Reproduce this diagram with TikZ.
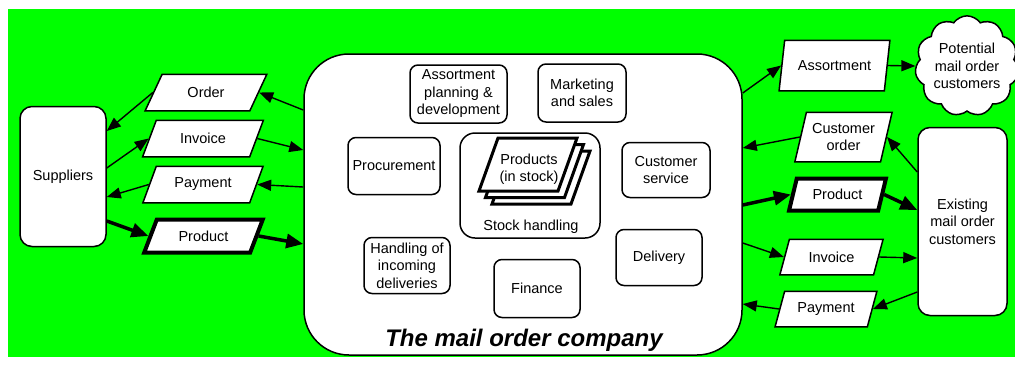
\documentclass[tikz,border=0pt]{standalone}
\usepackage{fontspec}
\setmainfont{Liberation Sans}
\usetikzlibrary{arrows.meta,shapes.geometric,shapes.symbols}
\definecolor{bggreen}{RGB}{0,255,0}
\begin{document}
\begin{tikzpicture}[x=1pt,y=-1pt,
  every node/.style={font=\fontsize{14.5}{17.5}\selectfont},
  box/.style={draw, fill=white, line width=1.5pt, rounded corners=8pt, align=center, inner sep=0pt},
  para/.style 2 args={draw, fill=white, line width=1.5pt, shape=trapezium,
     trapezium left angle=#1, trapezium right angle=#2,
     trapezium stretches=true, inner sep=0pt, align=center},
  thk/.style={line width=4pt},
  arr/.style={-{Triangle[length=14pt,width=11pt]}, line width=1.4pt},
  tarr/.style={-{Triangle[length=17pt,width=14pt]}, line width=3.5pt},
  stackp/.style={draw, fill=white, line width=3pt, line join=miter},
]
\useasboundingbox (0,0) rectangle (1015,365);
\fill[bggreen] (8,9) rectangle (1015,356.5);

% main company box
\node[box, rounded corners=45pt, minimum width=438pt, minimum height=301pt] (main) at (523,204.5) {};
\node[font=\fontsize{24}{28}\selectfont\bfseries\itshape] (title) at (524,340) {The mail order company};

% inner boxes
\node[box, minimum width=97pt, minimum height=58pt] (asp) at (458.5,94) {Assortment\\planning \&\\development};
\node[box, minimum width=88pt, minimum height=58pt] (mkt) at (582,93) {Marketing\\and sales};
\node[box, minimum width=92pt, minimum height=57pt] (proc) at (394,166) {Procurement};
\node[box, rounded corners=15pt, minimum width=140pt, minimum height=105pt] (stock) at (530,185.5) {};
\node (stocklbl) at (531,227) {Stock handling};
\foreach \d in {13,6.5,0} {
  \draw[stackp] (498+\d,138+\d) -- (577+\d,138+\d) -- (558+\d,191+\d) -- (479+\d,191+\d) -- cycle;
}
\node[align=center] (prods) at (529,169) {Products\\(in stock)};
\node[box, minimum width=88pt, minimum height=55pt] (csvc) at (666,170) {Customer\\service};
\node[box, minimum width=86pt, minimum height=56pt] (hinc) at (407,265.5) {Handling of\\incoming\\deliveries};
\node[box, minimum width=86pt, minimum height=58pt] (fin) at (537,288.5) {Finance};
\node[box, minimum width=86pt, minimum height=56pt] (dlv) at (659,257.5) {Delivery};

% outside parties
\node[box, rounded corners=12pt, minimum width=86pt, minimum height=140pt] (sup) at (63,176.5) {Suppliers};
\node[box, rounded corners=12pt, minimum width=89pt, minimum height=188pt] (exist) at (962.5,221.5) {Existing\\mail order\\customers};
\node[draw, fill=white, cloud, cloud puffs=11, cloud puff arc=110, aspect=1.05,
      minimum width=92pt, minimum height=89pt, inner sep=0pt, line width=1.5pt, align=center]
      (pot) at (967,66) {Potential\\mail order\\customers};

% left flows
\node[para={56}{124}, minimum width=122pt, minimum height=36.5pt] (ordL) at (206,92.5) {Order};
\node[para={57.7}{122.3}, minimum width=121pt, minimum height=36.5pt] (invL) at (203,138.5) {Invoice};
\node[para={57.7}{122.3}, minimum width=121pt, minimum height=36.5pt] (payL) at (203,184.5) {Payment};
\node[para={57.7}{122.3}, thk, minimum width=119pt, minimum height=33pt] (prodL) at (203.5,236) {Product};

% right flows
\node[para={68}{112}, minimum width=111.5pt, minimum height=50.5pt] (asrt) at (834.5,65.5) {Assortment};
\node[para={70.6}{109.4}, minimum width=97.5pt, minimum height=49.5pt] (cord) at (843.5,137) {Customer\\order};
\node[para={66}{114}, thk, minimum width=97pt, minimum height=32pt] (prodR) at (837.5,194.5) {Product};
\node[para={64}{116}, minimum width=103.5pt, minimum height=35.5pt] (invR) at (831.5,257) {Invoice};
\node[para={63}{117}, minimum width=102.5pt, minimum height=35.5pt] (payR) at (826,309) {Payment};

% left connectors
\draw[arr] (main.west |- 0,110) -- (ordL.east);
\draw[arr] (ordL.west) -- (sup.east |- 0,131);
\draw[arr] (sup.east |- 0,168) -- (invL.west);
\draw[arr] (invL.east) -- (main.west |- 0,150);
\draw[arr] (main.west |- 0,187) -- (payL.east);
\draw[arr] (payL.west) -- (sup.east |- 0,197);
\draw[tarr] (sup.east |- 0,221) -- (prodL.west);
\draw[tarr] (prodL.east) -- (main.west |- 0,244);

% right connectors
\draw[arr] (main.east |- 0,93) -- (asrt.west);
\draw[arr] (asrt.east) -- (pot.west);
\draw[arr] (cord.west) -- (main.east |- 0,148);
\draw[arr] (exist.west |- 0,172) -- (cord.east);
\draw[tarr] (main.east |- 0,205) -- (prodR.west);
\draw[tarr] (prodR.east) -- (exist.west |- 0,210);
\draw[arr] (main.east |- 0,243) -- (invR.west);
\draw[arr] (invR.east) -- (exist.west |- 0,258);
\draw[arr] (exist.west |- 0,292) -- (payR.east);
\draw[arr] (payR.west) -- (main.east |- 0,304);
\end{tikzpicture}
\end{document}
